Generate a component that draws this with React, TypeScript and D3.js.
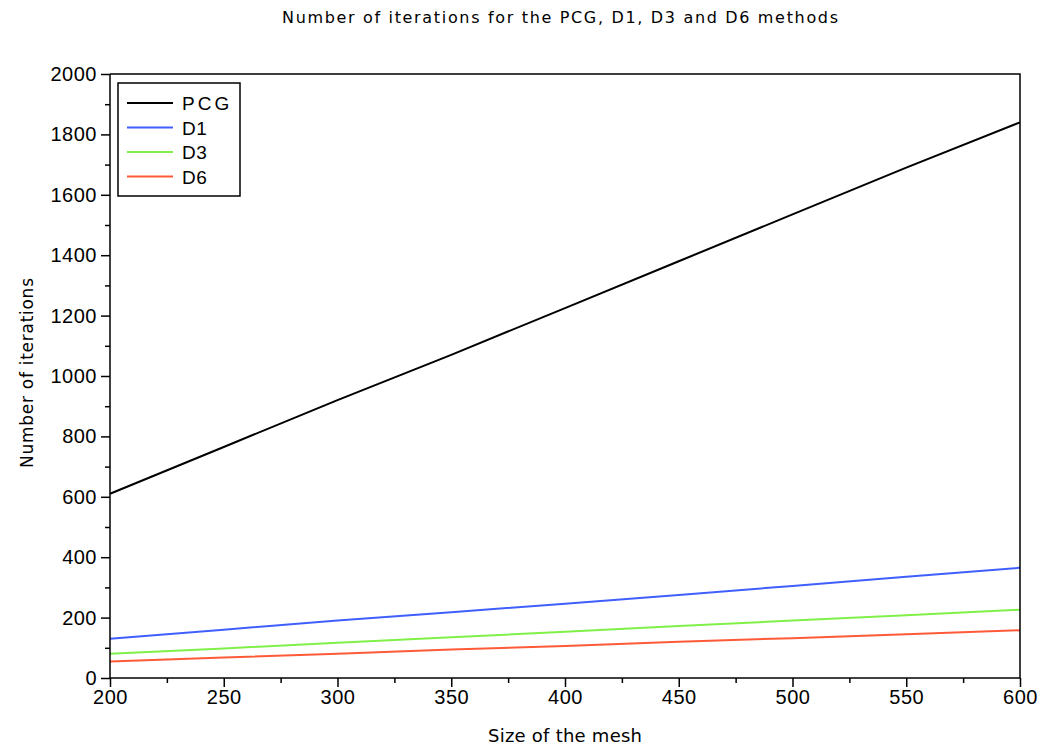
import React, { useEffect, useRef } from "react";
import * as d3 from "d3";

const meshSizes = [200, 250, 300, 350, 400, 450, 500, 550, 600];
const pcg = [610, 765, 920, 1070, 1225, 1380, 1535, 1690, 1840];
const d1 = [130, 160, 190, 218, 246, 275, 305, 335, 365];
const d3s = [80, 98, 117, 135, 153, 172, 190, 208, 226];
const d6 = [55, 68, 80, 94, 106, 120, 132, 145, 158];

const seriesNames = ["PCG", "D1", "D3", "D6"];
const seriesValues = [pcg, d1, d3s, d6];
const colors = ["#000000", "#3f5fff", "#80f048", "#ff5a38"];

const xTicks = [200, 250, 300, 350, 400, 450, 500, 550, 600];
const yTicks = [0, 200, 400, 600, 800, 1000, 1200, 1400, 1600, 1800, 2000];

export default function App() {
  const svgRef = useRef<SVGSVGElement>(null);

  useEffect(() => {
    const svg = d3.select(svgRef.current);
    svg.selectAll("*").remove();

    const width = 1039;
    const height = 746;
    const margin = { top: 74, right: 19, bottom: 68, left: 110 };
    const font = "'Liberation Sans', Arial, sans-serif";
    const wideFont = "'DejaVu Sans', 'Liberation Sans', sans-serif";

    const x = d3.scaleLinear().domain([200, 600]).range([margin.left, width - margin.right]);
    const y = d3.scaleLinear().domain([0, 2000]).range([height - margin.bottom, margin.top]);

    svg.attr("width", width).attr("height", height);

    svg.append("rect").attr("width", width).attr("height", height).attr("fill", "#fff");

    // title
    svg
      .append("text")
      .attr("x", 282)
      .attr("y", 23)
      .attr("textLength", 556)
      .attr("lengthAdjust", "spacing")
      .style("font-family", wideFont)
      .style("font-size", "16px")
      .text("Number of iterations for the PCG, D1, D3 and D6 methods");

    // lines
    const line = d3
      .line<number>()
      .x((d, i) => x(meshSizes[i]))
      .y((d) => y(d));

    seriesValues.forEach((vals, k) => {
      svg
        .append("path")
        .datum(vals)
        .attr("d", line)
        .attr("fill", "none")
        .attr("stroke", colors[k])
        .attr("stroke-width", 2);
    });

    // frame (top and right)
    svg
      .append("path")
      .attr("d", `M${x(200)},${y(2000)}H${x(600)}V${y(0)}`)
      .attr("fill", "none")
      .attr("stroke", "#000")
      .attr("stroke-width", 1.5);

    // x axis
    const xAxis = svg
      .append("g")
      .attr("transform", `translate(0,${y(0)})`)
      .call(
        d3
          .axisBottom(x)
          .tickValues(d3.range(200, 601, 25))
          .tickSize(9)
          .tickFormat((d) => (xTicks.includes(+d) ? String(d) : ""))
      );
    xAxis.selectAll(".tick line").attr("y2", (d: any) => (xTicks.includes(d) ? 9 : 5));

    // y axis
    const yAxis = svg
      .append("g")
      .attr("transform", `translate(${x(200)},0)`)
      .call(
        d3
          .axisLeft(y)
          .tickValues(d3.range(0, 2001, 100))
          .tickSize(9)
          .tickFormat((d) => (yTicks.includes(+d) ? String(d) : ""))
      );
    yAxis.selectAll(".tick line").attr("x2", (d: any) => (yTicks.includes(d) ? -9 : -5));

    [xAxis, yAxis].forEach((ax) => {
      ax.selectAll(".tick line").attr("stroke-width", 1.5);
      ax.selectAll("text")
        .style("font-family", font)
        .style("font-size", "20px")
        .style("letter-spacing", "0.5px")
        .attr("fill", "#000");
    });
    xAxis.select(".domain").attr("stroke-width", 1.5).attr("d", `M${x(200)},0H${x(600)}`);
    yAxis.select(".domain").attr("stroke-width", 1.5).attr("d", `M0,${y(0)}V${y(2000)}`);
    xAxis.selectAll("text").attr("y", 12);
    yAxis.selectAll("text").attr("x", -13);

    // axis labels
    svg
      .append("text")
      .attr("x", 488)
      .attr("y", 742)
      .attr("textLength", 154)
      .attr("lengthAdjust", "spacing")
      .style("font-family", wideFont)
      .style("font-size", "18px")
      .text("Size of the mesh");

    svg
      .append("text")
      .attr("transform", `translate(33,468) rotate(-90)`)
      .attr("textLength", 190)
      .attr("lengthAdjust", "spacing")
      .style("font-family", wideFont)
      .style("font-size", "17px")
      .text("Number of iterations");

    // legend
    const legend = svg.append("g").attr("transform", "translate(118,83)");
    legend
      .append("rect")
      .attr("width", 122)
      .attr("height", 113)
      .attr("fill", "#fff")
      .attr("stroke", "#000")
      .attr("stroke-width", 1.5);

    seriesNames.forEach((name, i) => {
      const yy = 20 + i * 24.5;
      legend
        .append("line")
        .attr("x1", 9)
        .attr("x2", 55)
        .attr("y1", yy)
        .attr("y2", yy)
        .attr("stroke", colors[i])
        .attr("stroke-width", 2);
      legend
        .append("text")
        .attr("x", 64)
        .attr("y", yy + 7)
        .style("font-family", font)
        .style("font-size", "19px")
        .style("letter-spacing", i === 0 ? "3px" : "0.5px")
        .text(name);
    });
  }, []);

  return <svg ref={svgRef} style={{ position: "absolute", left: 0, top: 0 }}></svg>;
}
